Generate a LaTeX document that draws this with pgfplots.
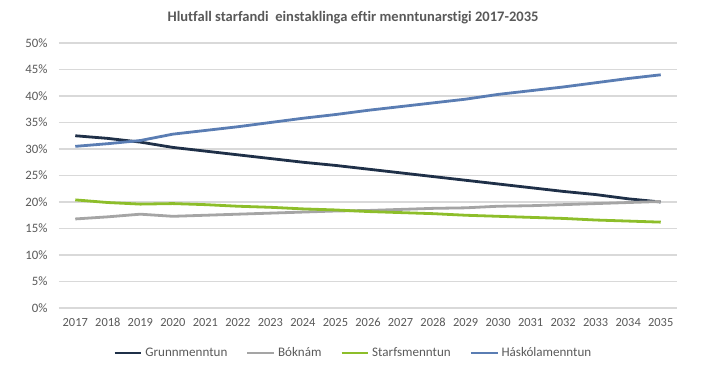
\documentclass[border=0pt]{standalone}
\usepackage{fontspec}
\setmainfont{Carlito}[Ligatures={NoCommon}]
\usepackage{pgfplots}
\pgfplotsset{compat=1.18}
\definecolor{grunn}{HTML}{1F3048}
\definecolor{bok}{HTML}{A5A5A5}
\definecolor{starf}{HTML}{8DBE2A}
\definecolor{hask}{HTML}{5A7DB3}
\definecolor{txt}{HTML}{595959}
\definecolor{grd}{HTML}{D9D9D9}
\begin{document}
\begin{tikzpicture}
\begin{axis}[
  at={(0,0)}, anchor=origin,
  scale only axis, width=463.5pt, height=198.75pt,
  xmin=2016.5, xmax=2035.5, ymin=0, ymax=50,
  xtick={2017,2018,...,2035},
  ytick={0,5,...,50},
  /pgf/number format/assume math mode=true,
  xticklabel style={/pgf/number format/1000 sep={}, font=\fontsize{9.3}{11}\selectfont, text=txt, yshift=-4pt},
  yticklabel={\pgfmathprintnumber{\tick}\%},
  yticklabel style={font=\fontsize{9.6}{11}\selectfont, text=txt, xshift=-5pt},
  axis line style={draw=none},
  major tick length=0pt,
  ymajorgrids, grid style={grd, line width=0.8pt},
  clip=false,
  legend columns=4,
  legend style={at={(221pt,-33.75pt)}, anchor=center, draw=none, fill=none,
    font=\fontsize{9.8}{11}\selectfont, text=txt,
    /tikz/every even column/.append style={column sep=12pt}},
  legend image code/.code={\draw[#1, line width=2pt] (0pt,0pt) -- (20pt,0pt);},
  every axis plot/.append style={line width=2.1pt},
]
\addplot[grunn, mark=none] coordinates {
(2017,32.5)(2018,32.0)(2019,31.3)(2020,30.3)(2021,29.6)(2022,28.9)(2023,28.2)(2024,27.5)(2025,26.9)(2026,26.2)(2027,25.5)(2028,24.8)(2029,24.1)(2030,23.4)(2031,22.7)(2032,22.0)(2033,21.4)(2034,20.6)(2035,20.0)};
\addlegendentry{Grunnmenntun}
\addplot[bok, mark=none] coordinates {
(2017,16.8)(2018,17.2)(2019,17.7)(2020,17.3)(2021,17.5)(2022,17.7)(2023,17.9)(2024,18.1)(2025,18.3)(2026,18.4)(2027,18.6)(2028,18.8)(2029,18.9)(2030,19.2)(2031,19.3)(2032,19.5)(2033,19.7)(2034,19.9)(2035,20.1)};
\addlegendentry{Bóknám}
\addplot[starf, mark=none] coordinates {
(2017,20.4)(2018,19.9)(2019,19.6)(2020,19.7)(2021,19.5)(2022,19.2)(2023,19.0)(2024,18.7)(2025,18.5)(2026,18.2)(2027,18.0)(2028,17.8)(2029,17.5)(2030,17.3)(2031,17.1)(2032,16.9)(2033,16.6)(2034,16.4)(2035,16.2)};
\addlegendentry{Starfsmenntun}
\addplot[hask, mark=none] coordinates {
(2017,30.5)(2018,31.0)(2019,31.6)(2020,32.8)(2021,33.5)(2022,34.2)(2023,35.0)(2024,35.8)(2025,36.5)(2026,37.3)(2027,38.0)(2028,38.7)(2029,39.4)(2030,40.3)(2031,41.0)(2032,41.7)(2033,42.5)(2034,43.3)(2035,44.0)};
\addlegendentry{Háskólamenntun}
\end{axis}
\node[font=\bfseries\fontsize{10.9}{13}\selectfont, text=txt] at (220.5pt,217.5pt) {Hlutfall starfandi \ einstaklinga eftir menntunarstigi 2017-2035};
\path[use as bounding box] (-44.25pt,-43.5pt) rectangle (490.5pt,231pt);
\end{tikzpicture}
\end{document}
